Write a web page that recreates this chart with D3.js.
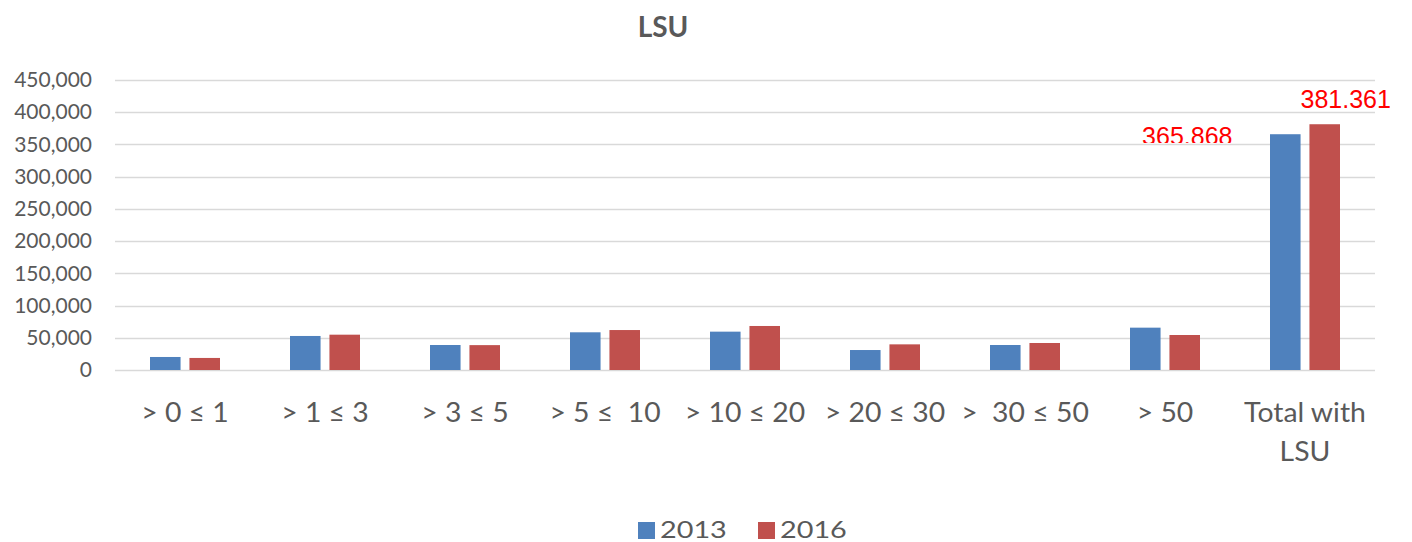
<!DOCTYPE html>
<html>
<head>
<meta charset="utf-8">
<script src="https://cdn.jsdelivr.net/npm/d3@7"></script>
<style>
  body { margin: 0; background: #fff; }
  text { font-family: Lato, "Open Sans", sans-serif; }
</style>
</head>
<body>
<div id="chart"></div>
<script>
// chart data
var categories = ["> 0 \u2264 1", "> 1 \u2264 3", "> 3 \u2264 5", "> 5 \u2264  10", "> 10 \u2264 20",
                  "> 20 \u2264 30", ">  30 \u2264 50", "> 50", "Total with LSU"];
var seriesNames = ["2013", "2016"];
var values2013 = [20200, 52800, 38800, 58500, 59500, 31000, 38800, 65700, 365868];
var values2016 = [18700, 54800, 38600, 62000, 68300, 39800, 41900, 54300, 381361];
var yTicks = [0, 50000, 100000, 150000, 200000, 250000, 300000, 350000, 400000, 450000];
var totalLabels = ["365.868", "381.361"];

var colors = ["#4F81BD", "#C0504D"];
var width = 1412, height = 542;
var margin = { top: 80, right: 37, bottom: 172, left: 115 };
var plotW = width - margin.left - margin.right;
var plotH = height - margin.top - margin.bottom;

// stretch text a little wider, the source glyphs are broad
function stretch(sel, k) {
  sel.each(function() {
    var w = this.getComputedTextLength();
    d3.select(this).attr("textLength", w * k).attr("lengthAdjust", "spacingAndGlyphs");
  });
}

var svg = d3.select("#chart").append("svg")
  .attr("width", width)
  .attr("height", height);

// title
svg.append("text")
  .attr("x", 663).attr("y", 37)
  .attr("text-anchor", "middle")
  .style("font-size", "28px").style("font-weight", "bold")
  .style("fill", "#595959")
  .text("LSU");

var g = svg.append("g").attr("transform", "translate(" + margin.left + "," + margin.top + ")");

var x = d3.scaleBand().domain(categories).range([0, plotW]);
var y = d3.scaleLinear().domain([0, 450000]).range([plotH, 0]);
var x1 = d3.scaleBand().domain(seriesNames).range([x.bandwidth() / 2 - 35, x.bandwidth() / 2 + 35]).paddingInner(0.225);

// gridlines
g.append("g").selectAll("line")
  .data(yTicks)
  .enter().append("line")
  .attr("x1", 0).attr("x2", plotW)
  .attr("y1", function(d) { return Math.round(y(d)) + 0.5; })
  .attr("y2", function(d) { return Math.round(y(d)) + 0.5; })
  .attr("stroke", "#d9d9d9").attr("stroke-width", 1.5);

// y axis labels
var yAxis = d3.axisLeft(y).tickValues(yTicks).tickSize(0).tickPadding(23)
  .tickFormat(d3.format(","));
var ya = g.append("g").call(yAxis);
ya.select(".domain").remove();
ya.selectAll("text")
  .style("font-size", "21px").style("fill", "#595959")
  .style("font-family", "Lato, 'Open Sans', sans-serif");

// bars
var data = categories.map(function(c, i) {
  return { cat: c, vals: [values2013[i], values2016[i]] };
});
var groups = g.selectAll(".grp")
  .data(data)
  .enter().append("g")
  .attr("class", "grp")
  .attr("transform", function(d) { return "translate(" + x(d.cat) + ",0)"; });

groups.selectAll("rect")
  .data(function(d) { return d.vals.map(function(v, j) { return { s: seriesNames[j], v: v, j: j }; }); })
  .enter().append("rect")
  .attr("x", function(d) { return x1(d.s); })
  .attr("width", x1.bandwidth())
  .attr("y", function(d) { return y(d.v); })
  .attr("height", function(d) { return plotH - y(d.v); })
  .attr("fill", function(d) { return colors[d.j]; });

// x axis labels (wrap "Total with LSU")
var xl = g.append("g").attr("transform", "translate(0," + plotH + ")");
xl.selectAll("text")
  .data(categories)
  .enter().append("text")
  .attr("x", function(d) { return x(d) + x.bandwidth() / 2; })
  .attr("y", 52)
  .attr("text-anchor", "middle")
  .style("font-size", "26px").style("fill", "#595959")
  .style("white-space", "pre")
  .each(function(d) {
    var t = d3.select(this);
    var cx = x(d) + x.bandwidth() / 2;
    if (d === "Total with LSU") {
      t.append("tspan").attr("x", cx).text("Total with");
      t.append("tspan").attr("x", cx).attr("dy", 39).text("LSU");
    } else {
      t.append("tspan").attr("x", cx).text(d);
    }
  });
stretch(xl.selectAll("tspan"), 1.09);

// red value labels on the total bars
var last = categories[categories.length - 1];
g.append("clipPath").attr("id", "cut")
  .append("rect")
  .attr("x", 900).attr("y", -80)
  .attr("width", 300).attr("height", y(350000) - 1.5 + 80);
g.append("text")
  .attr("x", x(last) + x1("2013") + x1.bandwidth() / 2 - 98)
  .attr("y", y(365868) + 11)
  .attr("text-anchor", "middle")
  .attr("clip-path", "url(#cut)")
  .style("font-size", "25px").style("fill", "#ff0000")
  .style("font-family", "'Liberation Sans', Arial, sans-serif")
  .text(totalLabels[0]);
g.append("text")
  .attr("x", x(last) + x1("2016") + x1.bandwidth() / 2 + 21)
  .attr("y", y(381361) - 16)
  .attr("text-anchor", "middle")
  .style("font-size", "25px").style("fill", "#ff0000")
  .style("font-family", "'Liberation Sans', Arial, sans-serif")
  .text(totalLabels[1]);

// legend
var legend = svg.append("g").attr("transform", "translate(638,522)");
var items = legend.selectAll("g")
  .data(seriesNames)
  .enter().append("g")
  .attr("transform", function(d, i) { return "translate(" + (i * 120) + ",0)"; });
items.append("rect")
  .attr("width", 17).attr("height", 17)
  .attr("fill", function(d, i) { return colors[i]; });
var lt = items.append("text")
  .attr("x", 22).attr("y", 16)
  .style("font-size", "24px").style("fill", "#595959")
  .text(function(d) { return d; });
stretch(lt, 1.2);
</script>
</body>
</html>
